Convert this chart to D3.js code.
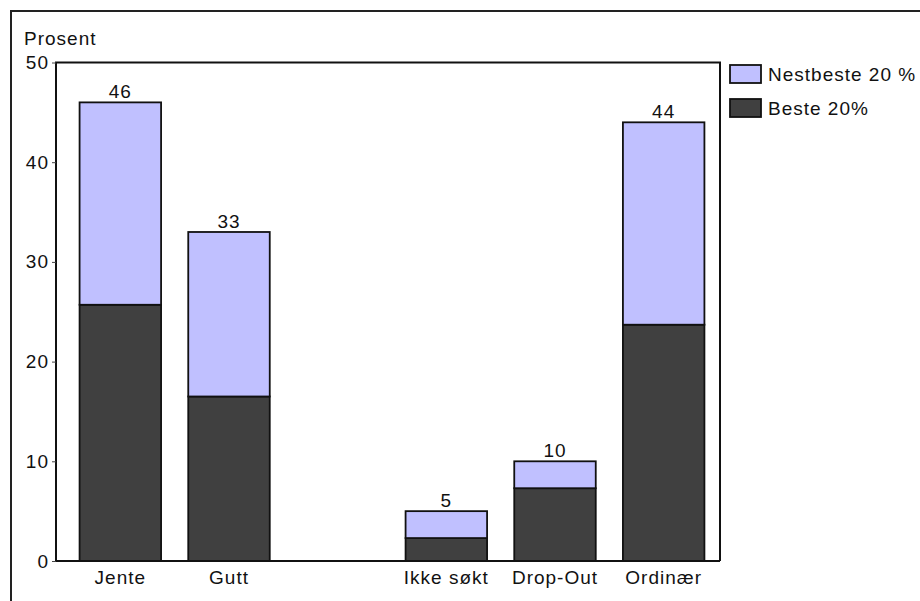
<!DOCTYPE html>
<html>
<head>
<meta charset="utf-8">
<script src="https://cdn.jsdelivr.net/npm/d3@7"></script>
<style>
  html, body { margin: 0; padding: 0; background: #fff; }
  svg { display: block; }
  text { font-family: "Liberation Sans", Arial, sans-serif; font-size: 19px; letter-spacing: 1px; fill: #111; }
</style>
</head>
<body>
<svg id="chart" width="920" height="601"></svg>
<script>
// Categories along the x axis; the empty entry leaves a gap between the two groups
const categories = ["Jente", "Gutt", "", "Ikke søkt", "Drop-Out", "Ordinær"];
const groups = ["Jente", "Gutt", "Ikke søkt", "Drop-Out", "Ordinær"];
// Share (percent) in each stacked segment
const beste = [25.7, 16.5, 2.3, 7.3, 23.7];
const nestbeste = [20.3, 16.5, 2.7, 2.7, 20.3];
const yTicks = [0, 10, 20, 30, 40, 50];
const seriesNames = ["Nestbeste 20 %", "Beste 20%"];
const seriesColors = ["#c0c0ff", "#404040"];

const svg = d3.select("#chart");

// Outer frame (open to the right and bottom)
svg.append("path")
  .attr("d", "M11,601 V11 H920")
  .attr("fill", "none").attr("stroke", "#222").attr("stroke-width", 2);

const plot = { left: 56, right: 720, top: 62.5, bottom: 561 };

const x = d3.scaleBand()
  .domain(categories)
  .range([66, 718])
  .paddingInner(0.25)
  .paddingOuter(0.125);

const y = d3.scaleLinear().domain([0, 50]).range([plot.bottom, plot.top]);

const rows = groups.map((g, i) => ({ group: g, beste: beste[i], nestbeste: nestbeste[i] }));
const stack = d3.stack().keys(["beste", "nestbeste"]);
const layers = stack(rows);
const colorFor = { beste: seriesColors[1], nestbeste: seriesColors[0] };

// Stacked bars
svg.append("g").selectAll("g")
  .data(layers)
  .join("g")
  .attr("fill", d => colorFor[d.key])
  .selectAll("rect")
  .data(d => d)
  .join("rect")
  .attr("x", d => x(d.data.group))
  .attr("width", x.bandwidth())
  .attr("y", d => y(d[1]))
  .attr("height", d => y(d[0]) - y(d[1]))
  .attr("stroke", "#111")
  .attr("stroke-width", 1.8);

// Totals above the bars
svg.append("g").selectAll("text")
  .data(rows)
  .join("text")
  .attr("x", d => x(d.group) + x.bandwidth() / 2)
  .attr("y", d => y(d.beste + d.nestbeste) - 4)
  .attr("text-anchor", "middle")
  .text(d => d3.format("d")(Math.round(d.beste + d.nestbeste)));

// Plot frame
svg.append("path")
  .attr("d", `M${plot.left},${plot.bottom} V${plot.top} H${plot.right} V${plot.bottom}`)
  .attr("fill", "none").attr("stroke", "#111").attr("stroke-width", 2);

// Y axis
const yAxis = svg.append("g")
  .attr("transform", `translate(${plot.left},0)`)
  .call(d3.axisLeft(y).tickValues(yTicks).tickSize(4).tickPadding(3).tickFormat(d3.format("d")));
yAxis.select(".domain").remove();
yAxis.selectAll(".tick line").attr("stroke", "#444");
yAxis.selectAll(".tick text").attr("font-size", null).attr("font-family", null).attr("fill", "#111");

// X axis
const xAxis = svg.append("g")
  .attr("transform", `translate(0,${plot.bottom})`)
  .call(d3.axisBottom(x).tickSize(0).tickPadding(10));
xAxis.select(".domain").attr("d", `M${plot.left},0 H${plot.right}`).attr("stroke", "#111").attr("stroke-width", 2);
xAxis.selectAll(".tick text").attr("font-size", null).attr("font-family", null).attr("fill", "#111");

// Y axis title
svg.append("text").attr("x", 24).attr("y", 45).text("Prosent");

// Legend
const legend = svg.append("g").attr("transform", "translate(730,65)");
const items = legend.selectAll("g")
  .data(seriesNames)
  .join("g")
  .attr("transform", (d, i) => `translate(0,${i * 34})`);
items.append("rect")
  .attr("width", 31).attr("height", 18)
  .attr("fill", (d, i) => seriesColors[i])
  .attr("stroke", "#111").attr("stroke-width", 1.8);
items.append("text")
  .attr("x", 38).attr("y", 16)
  .text(d => d);
</script>
</body>
</html>
